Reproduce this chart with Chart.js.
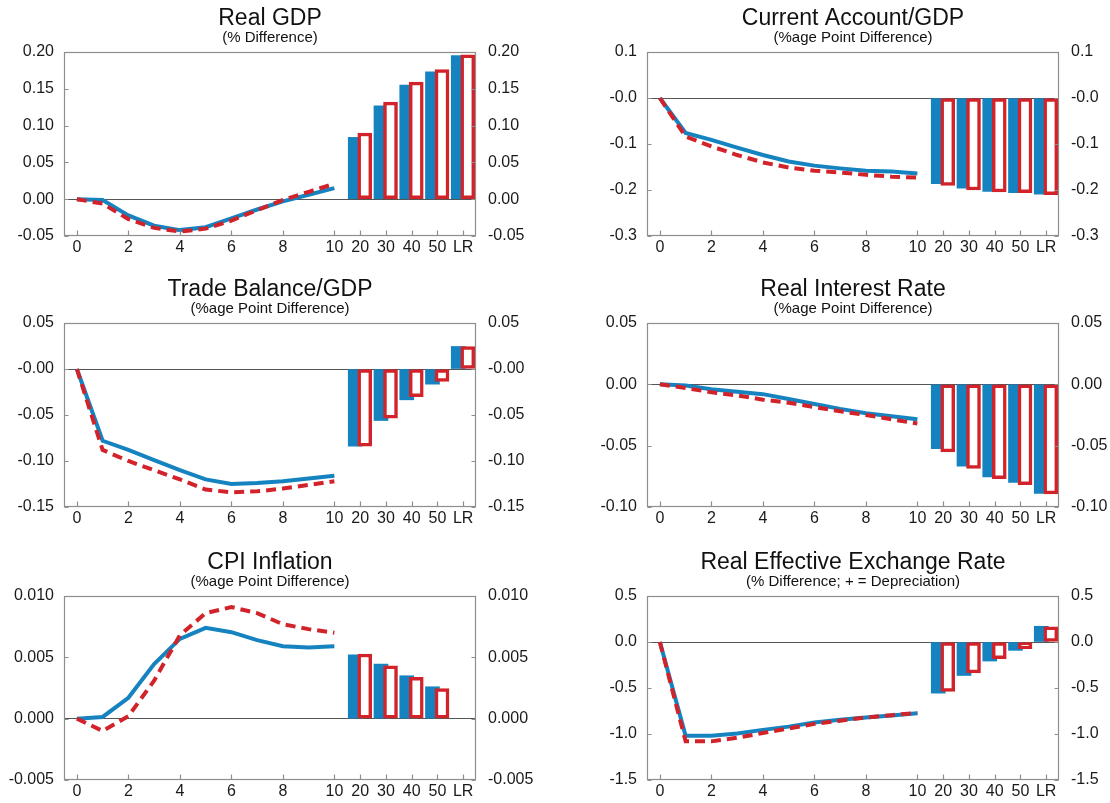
<!DOCTYPE html>
<html>
<head>
<meta charset="utf-8">
<script src="https://cdn.jsdelivr.net/npm/chart.js@4.4.1/dist/chart.umd.min.js"></script>
<style>
html,body{margin:0;padding:0;background:#fff;width:1110px;height:803px;overflow:hidden}
.panel{position:absolute;width:555px;height:266px}
canvas{display:block}
</style>
</head>
<body>
<div class="panel" style="left:0px;top:0px"><canvas id="c0" width="555" height="266"></canvas></div>
<div class="panel" style="left:555px;top:0px"><canvas id="c1" width="555" height="266"></canvas></div>
<div class="panel" style="left:0px;top:271px"><canvas id="c2" width="555" height="266"></canvas></div>
<div class="panel" style="left:555px;top:271px"><canvas id="c3" width="555" height="266"></canvas></div>
<div class="panel" style="left:0px;top:544px"><canvas id="c4" width="555" height="259"></canvas></div>
<div class="panel" style="left:555px;top:544px"><canvas id="c5" width="555" height="259"></canvas></div>
<script>
// ---- categories ----
const periods = [0, 1, 2, 3, 4, 5, 6, 7, 8, 9, 10];
const barLabels = ['20', '30', '40', '50', 'LR'];

// ---- Real GDP ----
const gdpBlueLine = [0, -0.001, -0.022, -0.036, -0.042, -0.038, -0.026, -0.014, -0.003, 0.006, 0.015];
const gdpRedLine  = [0, -0.006, -0.027, -0.039, -0.044, -0.040, -0.029, -0.015, -0.001, 0.010, 0.021];
const gdpBlueBars = [0.084, 0.127, 0.155, 0.173, 0.195];
const gdpRedBars  = [0.090, 0.132, 0.159, 0.176, 0.196];
const gdpTicks = [-0.05, 0, 0.05, 0.10, 0.15, 0.20];
const gdpTickLabels = ['-0.05', '0.00', '0.05', '0.10', '0.15', '0.20'];

// ---- Current Account/GDP ----
const caBlueLine = [0, -0.076, -0.091, -0.108, -0.124, -0.138, -0.147, -0.153, -0.158, -0.160, -0.164];
const caRedLine  = [0, -0.084, -0.105, -0.124, -0.140, -0.151, -0.158, -0.162, -0.167, -0.171, -0.173];
const caBlueBars = [-0.186, -0.196, -0.203, -0.206, -0.209];
const caRedBars  = [-0.190, -0.200, -0.204, -0.206, -0.210];
const caTicks = [-0.3, -0.2, -0.1, 0, 0.1];
const caTickLabels = ['-0.3', '-0.2', '-0.1', '-0.0', '0.1'];

// ---- Trade Balance/GDP ----
const tbBlueLine = [0, -0.078, -0.088, -0.099, -0.110, -0.120, -0.125, -0.124, -0.122, -0.119, -0.116];
const tbRedLine  = [0, -0.088, -0.100, -0.110, -0.120, -0.131, -0.134, -0.133, -0.130, -0.126, -0.122];
const tbBlueBars = [-0.084, -0.056, -0.0335, -0.0165, 0.0245];
const tbRedBars  = [-0.084, -0.0535, -0.030, -0.0135, 0.0245];
const tbTicks = [-0.15, -0.10, -0.05, 0, 0.05];
const tbTickLabels = ['-0.15', '-0.10', '-0.05', '-0.00', '0.05'];

// ---- Real Interest Rate ----
const rirBlueLine = [0, -0.001, -0.004, -0.006, -0.008, -0.012, -0.016, -0.020, -0.0235, -0.026, -0.0285];
const rirRedLine  = [0, -0.003, -0.0065, -0.009, -0.0125, -0.015, -0.0185, -0.022, -0.025, -0.0285, -0.032];
const rirBlueBars = [-0.0525, -0.0667, -0.0754, -0.080, -0.089];
const rirRedBars  = [-0.055, -0.0686, -0.077, -0.0817, -0.0893];
const rirTicks = [-0.10, -0.05, 0, 0.05];
const rirTickLabels = ['-0.10', '-0.05', '0.00', '0.05'];

// ---- CPI Inflation ----
const cpiBlueLine = [0, 0.00014, 0.0017, 0.00445, 0.0065, 0.0074, 0.00705, 0.0064, 0.0059, 0.0058, 0.0059];
const cpiRedLine  = [0, -0.001, 0.0002, 0.0031, 0.0068, 0.0086, 0.0091, 0.0086, 0.0077, 0.0073, 0.0070];
const cpiBlueBars = [0.0052, 0.00445, 0.0035, 0.0026, null];
const cpiRedBars  = [0.00527, 0.0043, 0.00336, 0.00246, null];
const cpiTicks = [-0.005, 0, 0.005, 0.010];
const cpiTickLabels = ['-0.005', '0.000', '0.005', '0.010'];

// ---- Real Effective Exchange Rate ----
const reerBlueLine = [0, -1.02, -1.02, -0.995, -0.955, -0.92, -0.875, -0.845, -0.82, -0.80, -0.775];
const reerRedLine  = [0, -1.08, -1.08, -1.04, -0.99, -0.94, -0.89, -0.855, -0.82, -0.795, -0.77];
const reerBlueBars = [-0.556, -0.364, -0.207, -0.091, 0.171];
const reerRedBars  = [-0.538, -0.335, -0.182, -0.073, 0.164];
const reerTicks = [-1.5, -1.0, -0.5, 0, 0.5];
const reerTickLabels = ['-1.5', '-1.0', '-0.5', '0.0', '0.5'];

// ---- panel table built from the arrays above ----
const panels = [
  {id: 'c0', col: 0, title: 'Real GDP', sub: '(% Difference)', bl: gdpBlueLine, rl: gdpRedLine, bb: gdpBlueBars, rb: gdpRedBars, yt: gdpTicks, yl: gdpTickLabels},
  {id: 'c1', col: 1, title: 'Current Account/GDP', sub: '(%age Point Difference)', bl: caBlueLine, rl: caRedLine, bb: caBlueBars, rb: caRedBars, yt: caTicks, yl: caTickLabels},
  {id: 'c2', col: 0, title: 'Trade Balance/GDP', sub: '(%age Point Difference)', bl: tbBlueLine, rl: tbRedLine, bb: tbBlueBars, rb: tbRedBars, yt: tbTicks, yl: tbTickLabels},
  {id: 'c3', col: 1, title: 'Real Interest Rate', sub: '(%age Point Difference)', bl: rirBlueLine, rl: rirRedLine, bb: rirBlueBars, rb: rirRedBars, yt: rirTicks, yl: rirTickLabels},
  {id: 'c4', col: 0, title: 'CPI Inflation', sub: '(%age Point Difference)', bl: cpiBlueLine, rl: cpiRedLine, bb: cpiBlueBars, rb: cpiRedBars, yt: cpiTicks, yl: cpiTickLabels},
  {id: 'c5', col: 1, title: 'Real Effective Exchange Rate', sub: '(% Difference; + = Depreciation)', bl: reerBlueLine, rl: reerRedLine, bb: reerBlueBars, rb: reerRedBars, yt: reerTicks, yl: reerTickLabels}
];

const BLUE = '#1683c1';
const RED = '#d2232a';
const FRAME = '#8e8e8e';
const leftAxisW = [64, 92];
const rightAxisW = [79, 51];

Chart.defaults.font.family = "'Liberation Sans', Arial, Helvetica, sans-serif";
Chart.defaults.color = '#1a1a1a';

const xTickValues = periods.filter(t => t % 2 === 0).concat(barLabels.map((l, i) => periods.length + i));
const xTickText = v => (v < periods.length ? String(v) : barLabels[v - periods.length]);

const framePlugin = {
  id: 'frame',
  afterDraw(chart) {
    const {ctx, chartArea: a, scales} = chart;
    const L = Math.round(a.left) + 0.5, R = Math.round(a.right) - 0.5;
    const T = Math.round(a.top) + 0.5, B = Math.round(a.bottom) - 0.5;
    ctx.save();
    ctx.strokeStyle = FRAME;
    ctx.lineWidth = 1.2;
    ctx.beginPath();
    scales.x.ticks.forEach(t => {
      const px = Math.round(scales.x.getPixelForValue(t.value)) + 0.5;
      ctx.moveTo(px, B); ctx.lineTo(px, B - 5);
    });
    scales.y.ticks.forEach(t => {
      const py = Math.round(scales.y.getPixelForValue(t.value)) + 0.5;
      ctx.moveTo(L, py); ctx.lineTo(L + 4, py);
      ctx.moveTo(R, py); ctx.lineTo(R - 4, py);
    });
    ctx.stroke();
    ctx.strokeRect(L, T, R - L, B - T);
    ctx.restore();
  }
};

function makeChart(p) {
  const yMin = p.yt[0], yMax = p.yt[p.yt.length - 1];
  const lineData = arr => periods.map((t, i) => ({x: t, y: arr[i]}));
  const barData = arr => barLabels.map((l, i) => ({x: periods.length + i, y: arr[i]}));
  const xMin = periods[0] - 0.5, xMax = periods.length + barLabels.length - 0.5;
  const canvas = document.getElementById(p.id);
  const xAxisH = 30 - (266 - canvas.height);
  const yAxisCommon = {
    type: 'linear', min: yMin, max: yMax,
    afterBuildTicks: s => { s.ticks = p.yt.map(v => ({value: v})); },
    border: {display: false}
  };
  new Chart(canvas, {
    type: 'line',
    data: {
      datasets: [
        {type: 'line', data: lineData(p.rl), borderColor: RED, borderWidth: 4, borderDash: [10, 6],
         pointRadius: 0, tension: 0, order: 0, xAxisID: 'x', yAxisID: 'y'},
        {type: 'line', data: lineData(p.bl), borderColor: BLUE, borderWidth: 4,
         pointRadius: 0, tension: 0, order: 1, xAxisID: 'x', yAxisID: 'y'},
        {type: 'bar', data: barData(p.rb), backgroundColor: '#ffffff', borderColor: RED, borderWidth: 3.5,
         borderSkipped: false, barThickness: 14, grouped: false, order: 2, xAxisID: 'xr', yAxisID: 'y'},
        {type: 'bar', data: barData(p.bb), backgroundColor: BLUE, borderWidth: 0,
         barThickness: 14, grouped: false, order: 3, xAxisID: 'xb', yAxisID: 'y'}
      ]
    },
    options: {
      responsive: false,
      animation: false,
      layout: {padding: 0},
      plugins: {
        legend: {display: false},
        tooltip: {enabled: false},
        title: {display: true, text: p.title, fullSize: false, color: '#111',
                font: {size: 23, weight: 'normal', lineHeight: 1.0}, padding: {top: 7, bottom: 0}},
        subtitle: {display: true, text: p.sub, fullSize: false, color: '#111',
                   font: {size: 15, weight: 'normal', lineHeight: 1.0}, padding: {top: 0, bottom: 7}}
      },
      scales: {
        x: {
          type: 'linear', position: 'bottom', min: xMin, max: xMax, offset: false,
          afterBuildTicks: s => { s.ticks = xTickValues.map(v => ({value: v})); },
          afterFit: s => { s.height = xAxisH; },
          grid: {display: false, drawTicks: false},
          border: {display: false},
          ticks: {autoSkip: false, maxRotation: 0, padding: 2, font: {size: 16},
                  callback: v => xTickText(v)}
        },
        xb: {type: 'linear', display: false, min: xMin + 0.19, max: xMax + 0.19, offset: false},
        xr: {type: 'linear', display: false, min: xMin - 0.18, max: xMax - 0.18, offset: false},
        y: Object.assign({}, yAxisCommon, {
          position: 'left',
          afterFit: s => { s.width = leftAxisW[p.col]; },
          grid: {drawTicks: false, drawOnChartArea: true, lineWidth: 1,
                 color: c => (c.tick && c.tick.value === 0) ? '#555555' : 'rgba(0,0,0,0)'},
          ticks: {padding: 10, font: {size: 16}, callback: (v, i) => p.yl[i]}
        }),
        y2: Object.assign({}, yAxisCommon, {
          position: 'right',
          afterFit: s => { s.width = rightAxisW[p.col]; },
          grid: {display: false, drawTicks: false},
          ticks: {padding: 12, font: {size: 16}, callback: (v, i) => p.yl[i]}
        })
      }
    },
    plugins: [framePlugin]
  });
}

panels.forEach(makeChart);
</script>
</body>
</html>
